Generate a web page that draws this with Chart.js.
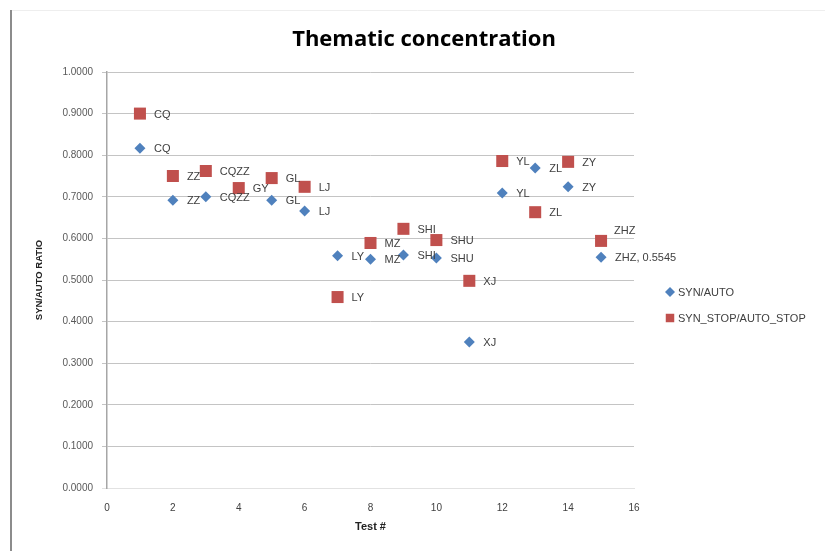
<!DOCTYPE html>
<html>
<head>
<meta charset="utf-8">
<script src="https://cdn.jsdelivr.net/npm/chart.js@4.4.1/dist/chart.umd.min.js"></script>
<style>
  html, body { margin: 0; padding: 0; background: #fff; }
</style>
</head>
<body>
<canvas id="graficoTematico" width="825" height="551"></canvas>
<script>
// Datos
const testNums = [1, 2, 3, 4, 5, 6, 7, 8, 9, 10, 11, 12, 13, 14, 15];
const names = ['CQ', 'ZZ', 'CQZZ', 'GY', 'GL', 'LJ', 'LY', 'MZ', 'SHI', 'SHU', 'XJ', 'YL', 'ZL', 'ZY', 'ZHZ'];
const synAuto = [0.817, 0.692, 0.700, null, 0.692, 0.666, 0.558, 0.550, 0.560, 0.553, 0.351, 0.709, 0.769, 0.724, 0.5545];
const synStopAutoStop = [0.900, 0.750, 0.762, 0.721, 0.745, 0.724, 0.459, 0.589, 0.623, 0.596, 0.498, 0.786, 0.663, 0.784, 0.594];
const seriesNames = ['SYN/AUTO', 'SYN_STOP/AUTO_STOP'];
const chartTitle = 'Thematic concentration';

const BLUE = '#4F81BD';
const RED = '#C0504D';

// Etiquetas de datos junto a cada punto
const etiquetasPlugin = {
    id: 'etiquetas',
    afterDatasetsDraw(chart) {
        const ctx = chart.ctx;
        ctx.save();
        ctx.font = '11px "Liberation Sans", Arial, sans-serif';
        ctx.fillStyle = '#404040';
        ctx.textBaseline = 'middle';
        ctx.textAlign = 'left';
        chart.data.datasets.forEach((ds, di) => {
            const meta = chart.getDatasetMeta(di);
            meta.data.forEach((el, i) => {
                const v = ds.data[i].y;
                if (v === null || v === undefined) return;
                let txt = names[i];
                let dx = 14, dy = 1;
                if (i === names.length - 1) {
                    if (di === 0) txt = names[i] + ', ' + v.toFixed(4);
                    else { dx = 13; dy = -10; }
                }
                ctx.fillText(txt, el.x + dx, el.y + dy);
            });
        });
        ctx.restore();
    }
};

// Título, leyenda y borde del área del gráfico
const marcoPlugin = {
    id: 'marco',
    beforeDraw(chart) {
        const ctx = chart.ctx;
        ctx.save();
        ctx.fillStyle = '#fff';
        ctx.fillRect(0, 0, chart.width, chart.height);
        ctx.strokeStyle = '#eeeeee';
        ctx.lineWidth = 1;
        ctx.beginPath();
        ctx.moveTo(10, 10.5);
        ctx.lineTo(chart.width, 10.5);
        ctx.stroke();
        ctx.strokeStyle = '#8c8c8c';
        ctx.lineWidth = 2;
        ctx.beginPath();
        ctx.moveTo(11, 10);
        ctx.lineTo(11, chart.height);
        ctx.stroke();
        ctx.restore();
    },
    afterDraw(chart) {
        const ctx = chart.ctx;
        ctx.save();
        ctx.font = 'bold 22px "Open Sans", sans-serif';
        ctx.fillStyle = '#000';
        ctx.textAlign = 'center';
        ctx.textBaseline = 'middle';
        ctx.fillText(chartTitle, 424, 40);

        ctx.textAlign = 'left';
        ctx.font = '11px "Liberation Sans", Arial, sans-serif';
        const ys = [292, 318];
        chart.data.datasets.forEach((ds, di) => {
            const r = di === 0 ? 5 : 6;
            ctx.fillStyle = ds.backgroundColor;
            ctx.strokeStyle = ds.borderColor;
            Chart.helpers.drawPoint(ctx, { pointStyle: ds.pointStyle, radius: r, borderWidth: 0, rotation: 0 }, 670, ys[di]);
            ctx.fillStyle = '#404040';
            ctx.fillText(seriesNames[di], 678, ys[di] + 1);
        });
        ctx.restore();
    }
};

const ctx = document.getElementById('graficoTematico').getContext('2d');
const graficoTematico = new Chart(ctx, {
    type: 'scatter',
    data: {
        datasets: [{
            label: seriesNames[0],
            data: testNums.map((x, i) => ({ x: x, y: synAuto[i] })),
            pointStyle: 'rectRot',
            pointRadius: 5.5,
            pointHoverRadius: 5.5,
            backgroundColor: BLUE,
            borderColor: BLUE,
            borderWidth: 0
        }, {
            label: seriesNames[1],
            data: testNums.map((x, i) => ({ x: x, y: synStopAutoStop[i] })),
            pointStyle: 'rect',
            pointRadius: 8.5,
            pointHoverRadius: 8.5,
            backgroundColor: RED,
            borderColor: RED,
            borderWidth: 0
        }]
    },
    options: {
        responsive: false,
        animation: false,
        layout: { padding: { left: 14, right: 191, top: 72, bottom: 0 } },
        plugins: {
            legend: { display: false },
            tooltip: { enabled: false },
            title: { display: false }
        },
        scales: {
            x: {
                type: 'linear',
                min: 0,
                max: 16,
                afterFit: s => { s.height = 63; },
                grid: { display: false, drawTicks: false },
                border: { display: true, color: '#e2e2e2', width: 1 },
                ticks: {
                    stepSize: 2,
                    padding: 14,
                    color: '#404040',
                    font: { family: '"Liberation Sans", sans-serif', size: 10 }
                },
                title: {
                    display: true,
                    text: 'Test #',
                    color: '#222',
                    font: { family: '"Liberation Sans", sans-serif', size: 11, weight: 'bold', lineHeight: 1.2 },
                    padding: { top: 0, bottom: 17 }
                }
            },
            y: {
                min: 0,
                max: 1,
                afterFit: s => { s.width = 93; },
                grid: {
                    color: c => (c.tick && c.tick.value === 0) ? '#e2e2e2' : '#c4c4c4',
                    lineWidth: 1,
                    tickLength: 5
                },
                border: { display: true, color: '#a6a6a6', width: 1.5 },
                ticks: {
                    stepSize: 0.1,
                    padding: 9,
                    color: '#595959',
                    font: { family: '"Liberation Sans", sans-serif', size: 10 },
                    callback: v => Number(v).toFixed(4)
                },
                title: {
                    display: true,
                    text: 'SYN/AUTO RATIO',
                    color: '#222',
                    font: { family: '"Liberation Sans", sans-serif', size: 9.5, weight: 'bold', lineHeight: 1.2 },
                    padding: { top: 20, bottom: 0 }
                }
            }
        }
    },
    plugins: [marcoPlugin, etiquetasPlugin]
});
</script>
</body>
</html>
